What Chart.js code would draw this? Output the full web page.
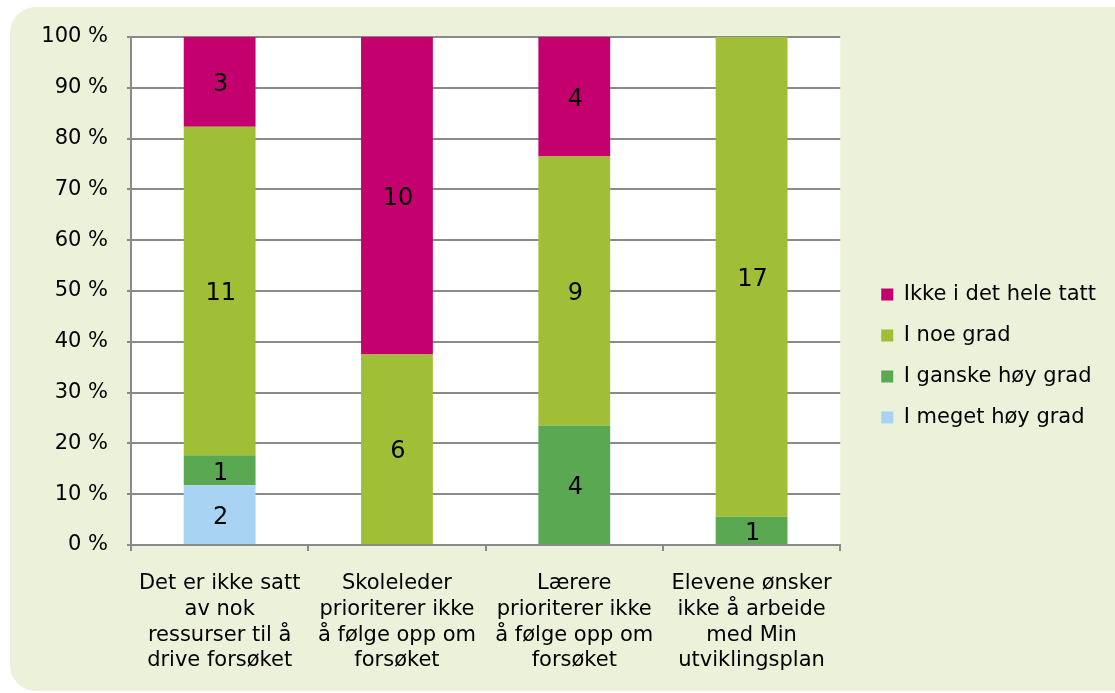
<!DOCTYPE html>
<html>
<head>
<meta charset="utf-8">
<script src="https://cdn.jsdelivr.net/npm/chart.js@4.4.1/dist/chart.umd.min.js"></script>
<style>
  html, body { margin: 0; padding: 0; background: #fff; overflow: hidden; }
  #bg {
    position: absolute; left: 10px; top: 7px; width: 1140px; height: 684px;
    background: #ecf1d9; border-radius: 26px;
  }
  #wrap { position: absolute; left: 0; top: 0; width: 1115px; height: 693px; }
</style>
</head>
<body>
<div id="bg"></div>
<div id="wrap"><canvas id="chart" width="1115" height="693"></canvas></div>
<script>
const categories = [
  ["Det er ikke satt", "av nok", "ressurser til å", "drive forsøket"],
  ["Skoleleder", "prioriterer ikke", "å følge opp om", "forsøket"],
  ["Lærere", "prioriterer ikke", "å følge opp om", "forsøket"],
  ["Elevene ønsker", "ikke å arbeide", "med Min", "utviklingsplan"]
];
const seriesNames = ["I meget høy grad", "I ganske høy grad", "I noe grad", "Ikke i det hele tatt"];
const megetHoy = [2, 0, 0, 0];
const ganskeHoy = [1, 0, 4, 1];
const noeGrad = [11, 6, 9, 17];
const ikkeHele = [3, 10, 4, 0];
const yTicks = [0, 10, 20, 30, 40, 50, 60, 70, 80, 90, 100];

const colors = ["#a8d3f3", "#5ba852", "#a1be37", "#c4006e"];
const counts = [megetHoy, ganskeHoy, noeGrad, ikkeHele];
const totals = categories.map((c, i) => counts.reduce((s, arr) => s + arr[i], 0));

const FONT = "'DejaVu Sans', Verdana, sans-serif";
const GRID = "#8a8a8a";
const LEGEND_GAP = 21;

const datasets = counts.map((arr, k) => ({
  label: seriesNames[k],
  data: arr.map((v, i) => v / totals[i] * 100),
  counts: arr,
  backgroundColor: colors[k],
  borderWidth: 0,
  barPercentage: 0.405,
  categoryPercentage: 1.0
}));

const plotBg = {
  id: "plotBg",
  beforeDraw(chart) {
    const a = chart.chartArea;
    const c = chart.ctx;
    c.save();
    c.fillStyle = "#ffffff";
    c.fillRect(a.left, a.top, a.right - a.left, a.bottom - a.top);
    c.restore();
  }
};

// push the legend a bit away from the plot area
const legendShift = {
  id: "legendShift",
  afterLayout(chart) {
    if (chart.legend) {
      chart.legend.left += LEGEND_GAP;
      chart.legend.right += LEGEND_GAP;
    }
  }
};

const countLabels = {
  id: "countLabels",
  afterDatasetsDraw(chart) {
    const c = chart.ctx;
    c.save();
    c.font = "24px " + FONT;
    c.fillStyle = "#000";
    c.textAlign = "center";
    c.textBaseline = "middle";
    chart.data.datasets.forEach((ds, k) => {
      chart.getDatasetMeta(k).data.forEach((bar, i) => {
        const n = ds.counts[i];
        if (!n) return;
        c.fillText(String(n), bar.x + 1, (bar.y + bar.base) / 2 + 3);
      });
    });
    c.restore();
  }
};

new Chart(document.getElementById("chart"), {
  type: "bar",
  data: { labels: categories, datasets: datasets },
  plugins: [plotBg, legendShift, countLabels],
  options: {
    responsive: false,
    animation: false,
    layout: { padding: { top: 37, right: 30, bottom: 18, left: 0 } },
    plugins: {
      tooltip: { enabled: false },
      legend: {
        position: "right",
        reverse: true,
        labels: {
          boxWidth: 12,
          boxHeight: 12,
          padding: 20,
          color: "#000",
          font: { family: FONT, size: 21 }
        }
      }
    },
    scales: {
      x: {
        stacked: true,
        grid: { display: true, drawOnChartArea: false, offset: true, color: GRID, lineWidth: 2, tickLength: 6 },
        border: { color: GRID, width: 2 },
        ticks: { color: "#000", font: { family: FONT, size: 21, lineHeight: 1.22 }, padding: 20, maxRotation: 0, autoSkip: false },
        afterFit(s) { s.height = 693 - 18 - 545; }
      },
      y: {
        stacked: true,
        min: 0,
        max: 100,
        afterBuildTicks(s) { s.ticks = yTicks.map(v => ({ value: v })); },
        grid: { color: GRID, lineWidth: 2, tickLength: 4 },
        border: { color: GRID, width: 2 },
        ticks: { color: "#000", font: { family: FONT, size: 21 }, padding: 19, callback: v => v + " %" },
        afterFit(s) { s.width = 131; }
      }
    }
  }
});
</script>
</body>
</html>
